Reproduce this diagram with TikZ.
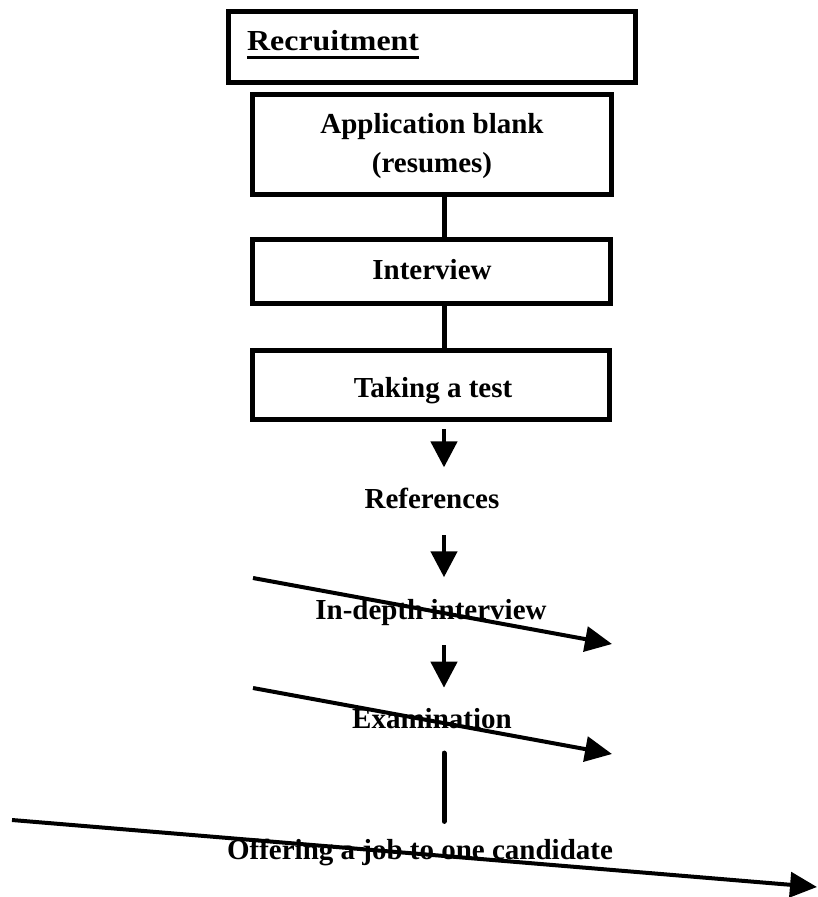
\documentclass[tikz,border=0pt]{standalone}
\usepackage{fontspec}
\setmainfont{Liberation Serif}
\usetikzlibrary{arrows.meta}
\begin{document}
\begin{tikzpicture}[x=1pt,y=-1pt,
  boxst/.style={draw=black, line width=4.7pt, inner sep=0pt},
  lbl/.style={inner sep=0pt, font=\fontsize{29}{39}\selectfont\bfseries},
  conn/.style={line width=5pt},
  arr/.style={line width=4.6pt, -{Triangle[length=26pt,width=26pt]}},
  diag/.style={line width=4pt, -{Triangle[length=27pt,width=25pt]}}]
\useasboundingbox (0,0) rectangle (817,897);
\coordinate (cx) at (444,0);
% boxes
\node[boxst, minimum width=407pt, minimum height=71pt] (recbox) at (432,47) {};
\node[boxst, minimum width=359pt, minimum height=100pt] (appbox) at (432,144.5) {};
\node[boxst, minimum width=358pt, minimum height=64pt] (intbox) at (431.5,271.5) {};
\node[boxst, minimum width=357pt, minimum height=69pt] (takebox) at (431,385) {};
% texts
\node[lbl, anchor=base west] (rec) at (247,50) {\scalebox{1.1}[1]{Recruitment}};
\draw[line width=3pt] ([yshift=-7.5pt]rec.base west) -- ([yshift=-7.5pt]rec.base east);
\node[lbl, anchor=base] (app1) at (432,133) {Application blank};
\node[lbl, anchor=base] (app2) at (432,172) {(resumes)};
\node[lbl, anchor=base] (int) at (432,279) {Interview};
\node[lbl, anchor=base] (take) at (433,397) {Taking a test};
\node[lbl, anchor=base] (ref) at (432,508) {References};
\node[lbl, anchor=base] (deep) at (431,619) {In-depth interview};
\node[lbl, anchor=base] (exam) at (432,728) {Examination};
\node[lbl, anchor=base] (offer) at (420,859) {Offering a job to one candidate};
% vertical connectors
\draw[conn] (appbox.south -| cx) -- (intbox.north -| cx);
\draw[conn] (intbox.south -| cx) -- (takebox.north -| cx);
\draw[arr, shorten <=7.5pt, shorten >=20pt] (takebox.south -| cx) -- (ref.north -| cx);
\draw[arr, shorten <=26.6pt, shorten >=21.4pt] (ref.south -| cx) -- (deep.north -| cx);
\draw[arr, shorten <=19.7pt, shorten >=20pt] (deep.south -| cx) -- (exam.north -| cx);
\draw[conn, line cap=round, shorten <=24.6pt, shorten >=17pt] (exam.south -| cx) -- (offer.north -| cx);
% diagonal arrows
\coordinate (d1s) at (253,578); \coordinate (d1e) at (612,644);
\coordinate (d2s) at (253,688); \coordinate (d2e) at (612,754);
\coordinate (d3s) at (12,820);  \coordinate (d3e) at (817,887);
\draw[diag] (d1s) -- (d1e);
\draw[diag] (d2s) -- (d2e);
\draw[diag] (d3s) -- (d3e);
\end{tikzpicture}
\end{document}
